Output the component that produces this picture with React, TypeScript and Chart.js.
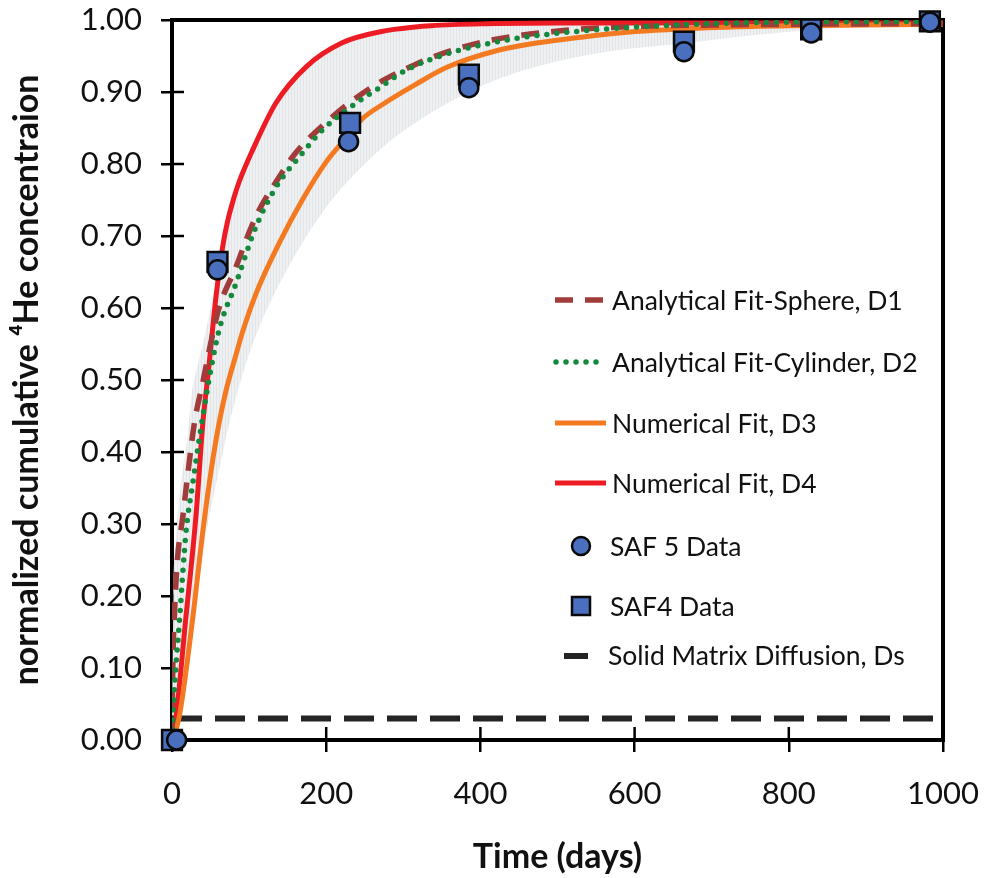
import React, { useEffect, useRef } from "react";
import { Chart, registerables } from "chart.js";

Chart.register(...registerables);

// ---------- data ----------
const sphereDays = [0, 1, 3, 7, 14, 20, 29, 40, 50, 61, 83, 100, 113, 139, 160, 194, 229, 272, 315, 358, 414, 504, 600, 700, 800, 1000];
const sphereConc = [0, 0.1, 0.17, 0.25, 0.31, 0.365, 0.44, 0.497, 0.55, 0.6, 0.657, 0.705, 0.736, 0.782, 0.815, 0.852, 0.884, 0.915, 0.938, 0.956, 0.972, 0.985, 0.991, 0.993, 0.994, 0.995];

const cylinderDays = [0, 1, 10, 18, 27, 44, 61, 83, 109, 135, 169, 194, 229, 272, 303, 354, 439, 504, 600, 700, 800, 1000];
const cylinderConc = [0, 0.03, 0.17, 0.287, 0.357, 0.476, 0.569, 0.634, 0.713, 0.768, 0.815, 0.846, 0.877, 0.908, 0.93, 0.952, 0.973, 0.982, 0.99, 0.995, 0.997, 0.998];

const numD3Days = [0, 9, 27, 40, 53, 61, 70, 83, 91, 109, 139, 169, 200, 229, 246, 272, 315, 358, 423, 461, 530, 590, 719, 800, 900, 1000];
const numD3Conc = [0, 0.03, 0.17, 0.29, 0.39, 0.44, 0.485, 0.535, 0.565, 0.62, 0.69, 0.75, 0.803, 0.84, 0.862, 0.882, 0.91, 0.935, 0.958, 0.966, 0.976, 0.983, 0.99, 0.992, 0.993, 0.994];

const numD4Days = [0, 5, 18, 31, 40, 48, 55, 61, 66, 72, 80, 87, 104, 135, 174, 220, 272, 336, 420, 500, 700, 1000];
const numD4Conc = [0, 0.03, 0.17, 0.31, 0.44, 0.52, 0.596, 0.65, 0.687, 0.72, 0.752, 0.775, 0.818, 0.885, 0.935, 0.968, 0.984, 0.992, 0.995, 0.996, 0.996, 0.996];

const bandUpperDays = [0, 2, 6, 12, 20, 25, 33, 41, 50, 58, 65, 72, 87, 104, 135, 174, 220, 272, 336, 420, 1000];
const bandUpperConc = [0, 0.2, 0.29, 0.36, 0.42, 0.476, 0.52, 0.555, 0.6, 0.645, 0.69, 0.728, 0.777, 0.82, 0.887, 0.936, 0.969, 0.985, 0.993, 0.996, 0.997];

const bandLowerDays = [0, 14, 27, 40, 60, 83, 110, 150, 200, 250, 290, 385, 450, 548, 676, 745, 850, 1000];
const bandLowerConc = [0, 0.045, 0.16, 0.26, 0.37, 0.476, 0.565, 0.655, 0.74, 0.8, 0.838, 0.9, 0.928, 0.953, 0.969, 0.978, 0.988, 0.995];

const saf5Days = [6, 59, 229, 385, 664, 829, 983];
const saf5Conc = [0, 0.653, 0.831, 0.906, 0.956, 0.982, 0.997];

const saf4Days = [0, 59, 231, 385, 664, 829, 983];
const saf4Conc = [0, 0.664, 0.857, 0.924, 0.97, 0.987, 0.998];

const solidDays = [0, 1000];
const solidConc = [0.03, 0.03];

const xTickValues = [0, 200, 400, 600, 800, 1000];
const yTickValues = [0, 0.1, 0.2, 0.3, 0.4, 0.5, 0.6, 0.7, 0.8, 0.9, 1.0];

const LABEL_SPHERE = "Analytical Fit-Sphere, D1";
const LABEL_CYL = "Analytical Fit-Cylinder, D2";
const LABEL_D3 = "Numerical Fit, D3";
const LABEL_D4 = "Numerical Fit, D4";
const LABEL_SAF5 = "SAF 5 Data";
const LABEL_SAF4 = "SAF4 Data";
const LABEL_DS = "Solid Matrix Diffusion, Ds";

const FONT = "Lato, 'Open Sans', sans-serif";

const pts = (xs: number[], ys: number[]) => xs.map((x, i) => ({ x, y: ys[i] }));

function makeHatch(): CanvasPattern | string {
  const c = document.createElement("canvas");
  c.width = 3;
  c.height = 4;
  const g = c.getContext("2d");
  if (!g) return "#eceeef";
  g.fillStyle = "#eef0f1";
  g.fillRect(0, 0, 3, 4);
  g.fillStyle = "#e2e5e7";
  g.fillRect(0, 0, 1, 4);
  return g.createPattern(c, "repeat") || "#eceeef";
}

const framePlugin = {
  id: "frameTicks",
  beforeDatasetsDraw(chart: any) {
    const { ctx, chartArea: a, scales } = chart;
    ctx.save();
    ctx.strokeStyle = "#000";
    ctx.lineWidth = 2.5;
    ctx.beginPath();
    for (const v of yTickValues) {
      const y = scales.y.getPixelForValue(v);
      ctx.moveTo(a.left, y);
      ctx.lineTo(a.left + 12, y);
    }
    for (const v of xTickValues) {
      const x = scales.x.getPixelForValue(v);
      ctx.moveTo(x, a.bottom);
      ctx.lineTo(x, a.bottom - 13);
    }
    ctx.stroke();
    ctx.lineWidth = 4;
    ctx.strokeRect(a.left, a.top, a.right - a.left, a.bottom - a.top);
    ctx.restore();
  },
};

const legendPlugin = {
  id: "insideLegend",
  afterDraw(chart: any) {
    const { ctx } = chart;
    const ds = chart.data.datasets;
    const find = (lbl: string) => ds.find((d: any) => d.label === lbl);
    ctx.save();
    ctx.font = `26.5px ${FONT}`;
    ctx.fillStyle = "#111";
    ctx.textBaseline = "middle";
    ctx.textAlign = "left";

    const lineRow = (lbl: string, y: number, x0: number, x1: number, tx: number) => {
      const d = find(lbl);
      if (!d) return;
      ctx.save();
      ctx.strokeStyle = d.borderColor;
      ctx.lineWidth = d.borderWidth;
      ctx.lineCap = d.borderCapStyle || "butt";
      ctx.setLineDash(d.borderDash || []);
      ctx.beginPath();
      ctx.moveTo(x0, y);
      ctx.lineTo(x1, y);
      ctx.stroke();
      ctx.restore();
      ctx.fillText(lbl, tx, y + 1);
    };
    lineRow(LABEL_SPHERE, 300, 555, 603, 612);
    lineRow(LABEL_CYL, 362, 556, 603, 612);
    lineRow(LABEL_D3, 423, 555, 606, 612);
    lineRow(LABEL_D4, 483, 555, 606, 612);

    const markRow = (lbl: string, y: number, x: number, tx: number) => {
      const d = find(lbl);
      if (!d) return;
      ctx.save();
      ctx.fillStyle = d.pointBackgroundColor;
      ctx.strokeStyle = d.pointBorderColor;
      ctx.lineWidth = d.pointBorderWidth;
      if (d.pointStyle === "rect") {
        ctx.beginPath();
        ctx.rect(x - 9, y - 9, 18, 18);
      } else {
        ctx.beginPath();
        ctx.arc(x, y, 9, 0, Math.PI * 2);
      }
      ctx.fill();
      ctx.stroke();
      ctx.restore();
      ctx.fillText(lbl, tx, y + 1);
    };
    markRow(LABEL_SAF5, 546, 581, 610);
    markRow(LABEL_SAF4, 606, 581, 610);

    const dsd = find(LABEL_DS);
    if (dsd) {
      ctx.save();
      ctx.strokeStyle = dsd.borderColor;
      ctx.lineWidth = dsd.borderWidth;
      ctx.beginPath();
      ctx.moveTo(564, 656);
      ctx.lineTo(588, 656);
      ctx.stroke();
      ctx.restore();
      ctx.fillText(LABEL_DS, 608, 656);
    }
    ctx.restore();
  },
};

export default function App() {
  const ref = useRef<HTMLCanvasElement | null>(null);

  useEffect(() => {
    document.body.style.margin = "0";
    const canvas = ref.current;
    if (!canvas) return;
    const hatch = makeHatch();

    const chart = new Chart(canvas, {
      type: "line",
      data: {
        datasets: [
          {
            label: LABEL_SAF5,
            data: pts(saf5Days, saf5Conc),
            showLine: false,
            pointStyle: "circle",
            pointRadius: 9.5,
            pointBackgroundColor: "#4a6fbe",
            pointBorderColor: "#0a0a0a",
            pointBorderWidth: 2.5,
            clip: false,
            order: 0,
          },
          {
            label: LABEL_SAF4,
            data: pts(saf4Days, saf4Conc),
            showLine: false,
            pointStyle: "rect",
            pointRadius: 14,
            pointBackgroundColor: "#4a6fbe",
            pointBorderColor: "#0a0a0a",
            pointBorderWidth: 2.5,
            clip: false,
            order: 1,
          },
          {
            label: LABEL_CYL,
            data: pts(cylinderDays, cylinderConc),
            borderColor: "#138a3c",
            borderWidth: 5.5,
            borderDash: [0, 10],
            borderCapStyle: "round",
            pointRadius: 0,
            cubicInterpolationMode: "monotone",
            fill: false,
            order: 2,
          },
          {
            label: LABEL_SPHERE,
            data: pts(sphereDays, sphereConc),
            borderColor: "#a03c3a",
            borderWidth: 5.5,
            borderDash: [18, 12],
            borderCapStyle: "butt",
            pointRadius: 0,
            cubicInterpolationMode: "monotone",
            fill: false,
            order: 3,
          },
          {
            label: LABEL_D3,
            data: pts(numD3Days, numD3Conc),
            borderColor: "#f47a22",
            borderWidth: 5,
            pointRadius: 0,
            cubicInterpolationMode: "monotone",
            fill: false,
            order: 4,
          },
          {
            label: LABEL_D4,
            data: pts(numD4Days, numD4Conc),
            borderColor: "#ed1c24",
            borderWidth: 5,
            pointRadius: 0,
            cubicInterpolationMode: "monotone",
            fill: false,
            order: 5,
          },
          {
            label: LABEL_DS,
            data: pts(solidDays, solidConc),
            borderColor: "#242424",
            borderWidth: 6,
            borderDash: [30, 13],
            pointRadius: 0,
            fill: false,
            order: 6,
          },
          {
            label: "band-lower",
            data: pts(bandLowerDays, bandLowerConc),
            borderWidth: 0,
            borderColor: "rgba(0,0,0,0)",
            pointRadius: 0,
            cubicInterpolationMode: "monotone",
            fill: false,
            order: 20,
          },
          {
            label: "band-upper",
            data: pts(bandUpperDays, bandUpperConc),
            borderWidth: 0,
            borderColor: "rgba(0,0,0,0)",
            backgroundColor: hatch as any,
            pointRadius: 0,
            cubicInterpolationMode: "monotone",
            fill: { target: 7 },
            order: 19,
          },
        ],
      },
      options: {
        responsive: false,
        animation: false,
        devicePixelRatio: 1,
        layout: { padding: { left: 0, right: 42, top: 20, bottom: 0 } },
        plugins: {
          legend: { display: false },
          tooltip: { enabled: false },
        },
        scales: {
          x: {
            type: "linear",
            min: 0,
            max: 1000,
            afterFit: (s: any) => {
              s.height = 138;
              s.paddingLeft = 0;
              s.paddingRight = 0;
            },
            afterBuildTicks: (s: any) => {
              s.ticks = xTickValues.map((v) => ({ value: v }));
            },
            border: { display: false },
            grid: {
              drawOnChartArea: false,
              drawTicks: true,
              tickLength: 12,
              color: "#000",
              lineWidth: 2.5,
            },
            ticks: {
              padding: 23,
              color: "#111",
              font: { family: FONT, size: 31 },
              callback: (v: any) => String(v),
            },
            title: {
              display: true,
              text: "Time (days)",
              color: "#111",
              font: { family: FONT, size: 34, weight: "bold" },
              padding: { top: 0, bottom: 1 },
            },
          },
          y: {
            type: "linear",
            min: 0,
            max: 1,
            afterFit: (s: any) => {
              s.width = 172;
              s.paddingTop = 0;
              s.paddingBottom = 0;
            },
            afterBuildTicks: (s: any) => {
              s.ticks = yTickValues.map((v) => ({ value: v }));
            },
            border: { display: false },
            grid: {
              drawOnChartArea: false,
              drawTicks: true,
              tickLength: 11,
              color: "#000",
              lineWidth: 2.5,
            },
            ticks: {
              padding: 19,
              color: "#111",
              font: { family: FONT, size: 31 },
              callback: (v: any) => Number(v).toFixed(2),
            },
            title: {
              display: true,
              text: "normalized cumulative \u2074He concentraion",
              color: "#111",
              font: { family: FONT, size: 34, weight: "bold" },
              padding: { top: 7, bottom: 0 },
            },
          },
        },
      },
      plugins: [framePlugin, legendPlugin],
    });

    return () => chart.destroy();
  }, []);

  return (
    <div style={{ width: 985, height: 878, background: "#fff" }}>
      <canvas ref={ref} width={985} height={878} style={{ display: "block" }} />
    </div>
  );
}
